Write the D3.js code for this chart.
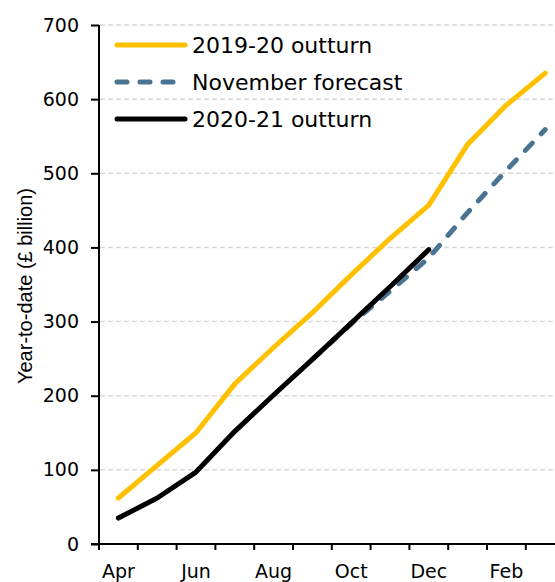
<!DOCTYPE html>
<html>
<head>
<meta charset="utf-8">
<script src="https://cdn.jsdelivr.net/npm/d3@7"></script>
<style>
    body { margin: 0; background: #fff; }
    svg { display: block; font-family: "DejaVu Sans", sans-serif; }
    .grid line { stroke: #d9d9d9; stroke-dasharray: 5,3; stroke-width: 1.5; }
</style>
</head>
<body>
<div id="chart"></div>
<script>
const months = ['Apr', 'May', 'Jun', 'Jul', 'Aug', 'Sep', 'Oct', 'Nov', 'Dec', 'Jan', 'Feb', 'Mar'];
const monthLabels = ['Apr', 'Jun', 'Aug', 'Oct', 'Dec', 'Feb'];
const yTicks = [0, 100, 200, 300, 400, 500, 600, 700];

// £ billion, year-to-date
const outturn1920 = [62, 106, 150, 216, 265, 312, 363, 412, 457, 539, 592, 635];
const forecastNov = [null, null, null, null, null, 249, 297, 341, 386, 447, 504, 559];
const outturn2021 = [35, 62, 97, 152, 201, 249, 298, 347, 397];

const series = [
    { name: '2019-20 outturn', values: outturn1920, color: '#FFC000', dash: null },
    { name: 'November forecast', values: forecastNov, color: '#4A7491', dash: '10,13' },
    { name: '2020-21 outturn', values: outturn2021, color: '#000000', dash: null }
];

const width = 555;
const height = 582;

const svg = d3.select('#chart')
    .append('svg')
    .attr('width', width)
    .attr('height', height);

const xScale = d3.scaleBand().domain(months).range([99, 99 + 12 * 38.8]);
const yScale = d3.scaleLinear().domain([0, 700]).range([544, 25]);

// gridlines
svg.append('g')
    .attr('class', 'grid')
    .selectAll('line')
    .data(yTicks.filter(d => d > 0))
    .enter().append('line')
    .attr('x1', 100)
    .attr('x2', width)
    .attr('y1', d => yScale(d))
    .attr('y2', d => yScale(d));

// y axis
const yAxis = svg.append('g')
    .attr('transform', 'translate(99,0)')
    .call(d3.axisLeft(yScale).tickValues(yTicks).tickSize(8).tickPadding(12));
yAxis.selectAll('line, path').attr('stroke', '#000').attr('stroke-width', 2);
yAxis.select('.domain').attr('d', 'M0,' + yScale(700) + 'V' + yScale(0));
yAxis.selectAll('text')
    .attr('font-size', 19)
    .attr('fill', '#000')
    .attr('font-family', 'DejaVu Sans');

// x axis
const xAxis = svg.append('g').attr('transform', 'translate(0,' + yScale(0) + ')');
xAxis.append('line')
    .attr('x1', 91).attr('x2', width)
    .attr('y1', 0).attr('y2', 0)
    .attr('stroke', '#000').attr('stroke-width', 2);
xAxis.selectAll('.xTick')
    .data(months)
    .enter().append('line')
    .attr('class', 'xTick')
    .attr('x1', d => xScale(d)).attr('x2', d => xScale(d))
    .attr('y1', 0).attr('y2', 6)
    .attr('stroke', '#000').attr('stroke-width', 2);
xAxis.selectAll('.xLabel')
    .data(monthLabels)
    .enter().append('text')
    .attr('class', 'xLabel')
    .attr('x', d => xScale(d) + xScale.bandwidth() / 2)
    .attr('y', 34)
    .attr('text-anchor', 'middle')
    .attr('font-size', 19)
    .attr('font-family', 'DejaVu Sans')
    .text(d => d);

// y axis title
svg.append('text')
    .attr('transform', 'translate(32,286) rotate(-90)')
    .attr('text-anchor', 'middle')
    .attr('font-size', 20)
    .attr('font-family', 'Liberation Sans')
    .text('Year-to-date (£ billion)');

const line = d3.line()
    .defined(d => d != null)
    .x((d, i) => xScale(months[i]) + xScale.bandwidth() / 2)
    .y(d => yScale(d));

series.forEach(s => {
    svg.append('path')
        .datum(s.values)
        .attr('d', line)
        .attr('fill', 'none')
        .attr('stroke', s.color)
        .attr('stroke-width', 5)
        .attr('stroke-linecap', 'round')
        .attr('stroke-linejoin', 'round')
        .attr('stroke-dasharray', s.dash);
});

// legend
const legend = svg.append('g');
series.forEach((s, i) => {
    const y = 45 + i * 37;
    legend.append('line')
        .attr('x1', 117).attr('x2', 185)
        .attr('y1', y).attr('y2', y)
        .attr('stroke', s.color)
        .attr('stroke-width', 5)
        .attr('stroke-linecap', 'round')
        .attr('stroke-dasharray', s.dash);
    legend.append('text')
        .attr('x', 192)
        .attr('y', y + 8)
        .attr('font-size', 22)
        .attr('font-family', 'DejaVu Sans')
        .text(s.name);
});
</script>
</body>
</html>
